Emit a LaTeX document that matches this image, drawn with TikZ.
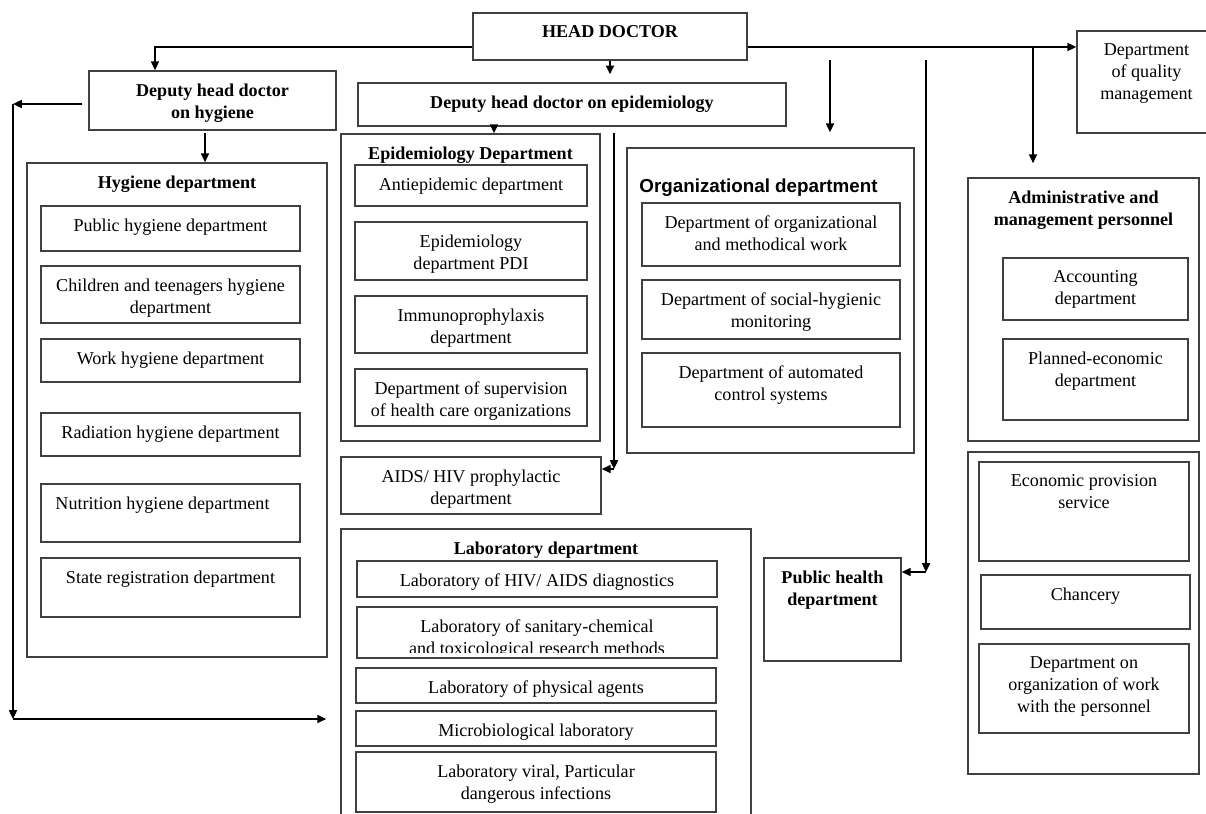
\documentclass[tikz,border=0pt]{standalone}
\usepackage{fontspec}
\setmainfont{Liberation Serif}
\newfontfamily\orgfont{Liberation Sans}
\usetikzlibrary{arrows.meta,fit}

\tikzset{
  box/.style={draw=black!75, line width=0.9pt, inner sep=0pt},
  lbl/.style={anchor=north, yshift=-0.26cm, align=center, inner sep=0pt, font=\fontsize{10.3}{12.5}\selectfont},
  txt/.style={label={[lbl]north:#1}},
  btxt/.style={label={[lbl, font=\fontsize{10.3}{12.5}\selectfont\bfseries]north:#1}},
  arr/.style={-{Triangle[length=5pt,width=4.6pt]}, line width=0.8pt},
}

\begin{document}
\begin{tikzpicture}[x=0.02cm, y=-0.02cm]
\useasboundingbox (0,0) rectangle (1206,814);

% heads
\node[box, fit={(473,13) (747,60)}, btxt={HEAD DOCTOR}] (head) {};
\node[box, fit={(89,71) (336,130)}, btxt={Deputy head doctor\\on hygiene}] (dephyg) {};
\node[box, fit={(358,83) (786,126)}, btxt={Deputy head doctor on epidemiology}] (depepi) {};
\node[box, fit={(1077,31) (1216,133)}, txt={Department\\of quality\\management}] (quality) {};

% hygiene
\node[box, fit={(27,163) (327,657)}, btxt={Hygiene department}] (hyg) {};
\node[box, fit={(41,206) (300,251)}, txt={Public hygiene department}] (hyg1) {};
\node[box, fit={(41,266) (300,323)}, txt={Children and teenagers hygiene\\department}] (hyg2) {};
\node[box, fit={(41,339) (300,382)}, txt={Work hygiene department}] (hyg3) {};
\node[box, fit={(41,413) (300,456)}, txt={Radiation hygiene department}] (hyg4) {};
\node[box, fit={(41,484) (300,542)}, label={[lbl, xshift=-0.16cm]north:Nutrition hygiene department}] (hyg5) {};
\node[box, fit={(41,558) (300,617)}, txt={State registration department}] (hyg6) {};

% epidemiology
\node[box, fit={(341,134) (600,441)}, btxt={Epidemiology Department}] (epi) {};
\node[box, fit={(355,165) (587,206)}, txt={Antiepidemic department}] (epi1) {};
\node[box, fit={(355,222) (587,280)}, txt={Epidemiology\\department PDI}] (epi2) {};
\node[box, fit={(355,296) (587,353)}, txt={Immunoprophylaxis\\department}] (epi3) {};
\node[box, fit={(355,369) (587,426)}, txt={Department of supervision\\of health care organizations}] (epi4) {};
\node[box, fit={(341,457) (601,514)}, txt={AIDS/ HIV prophylactic\\department}] (aids) {};

% laboratories
\node[box, fit={(341,529) (751,830)}, btxt={Laboratory department}] (lab) {};
\node[box, fit={(357,561) (717,597)}, txt={Laboratory of HIV/ AIDS diagnostics}] (lab1) {};
\node[box, fit={(357,607) (717,658)}] (lab2) {};
\begin{scope}
\clip (357,607) rectangle (717,652);
\node[lbl] (lab2t) at (lab2.north) {Laboratory of sanitary-chemical\\and toxicological research methods};
\end{scope}
\node[box, fit={(356,668) (716,703)}, txt={Laboratory of physical agents}] (lab3) {};
\node[box, fit={(356,711) (716,746)}, txt={Microbiological laboratory}] (lab4) {};
\node[box, fit={(356,752) (716,812)}, txt={Laboratory viral, Particular\\dangerous infections}] (lab5) {};

% organizational
\node[box, fit={(627,148) (914,453)}, label={[lbl, yshift=-0.36cm, xshift=-0.24cm, font=\orgfont\fontsize{10.7}{13}\selectfont\bfseries]north:Organizational department}] (org) {};
\node[box, fit={(642,203) (900,266)}, txt={Department of organizational\\and methodical work}] (org1) {};
\node[box, fit={(642,280) (900,339)}, txt={Department of social-hygienic\\monitoring}] (org2) {};
\node[box, fit={(642,353) (900,427)}, txt={Department of automated\\control systems}] (org3) {};

\node[box, fit={(764,558) (901,661)}, btxt={Public health\\department}] (pubh) {};

% administration
\node[box, fit={(968,178) (1199,441)}, btxt={Administrative and\\management personnel}] (adm) {};
\node[box, fit={(1003,258) (1188,320)}, txt={Accounting\\department}] (adm1) {};
\node[box, fit={(1003,339) (1188,420)}, txt={Planned-economic\\department}] (adm2) {};
\node[box, fit={(968,452) (1199,774)}] (eco) {};
\node[box, fit={(979,462) (1189,561)}, txt={Economic provision\\service}] (eco1) {};
\node[box, fit={(981,575) (1190,629)}, txt={Chancery}] (eco2) {};
\node[box, fit={(979,644) (1189,733)}, txt={Department on\\organization of work\\with the personnel}] (eco3) {};

% connectors
\coordinate (hb) at (155,47);
\coordinate (rb) at (1033,47);
\coordinate (ha) at (205,133);
\coordinate (ea) at (494,126);
\coordinate (h1) at (13,104);
\coordinate (h2) at (13,719);
\coordinate (e1) at (614,133);
\coordinate (e2) at (614,469);
\coordinate (o1) at (830,60);
\coordinate (p1) at (926,60);
\coordinate (p2) at (926,572);

\draw[arr] (head.west |- hb) -- (hb) -- (hb |- dephyg.north);
\draw[arr] (head.east |- hb) -- (quality.west |- hb);
\draw[arr, shorten >=8pt] (rb) -- (rb |- adm.north);
\draw[arr, shorten >=4.5pt] (head.south) -- (head.south |- depepi.north);
\draw[arr] (ha) -- (ha |- hyg.north);
\draw[arr] (ea) -- (ea |- epi.north);
\draw[arr, shorten <=3.5pt] (dephyg.west |- h1) -- (h1);
\draw[arr] (h1) -- (h2);
\draw[arr, shorten >=8pt] (h2) -- (lab.west |- h2);
\draw[arr] (e1) -- (e2);
\draw[arr] (e2) -- (aids.east |- e2);
\draw[arr, shorten >=8.5pt] (o1) -- (o1 |- org.north);
\draw[arr] (p1) -- (p2);
\draw[arr] (p2) -- (pubh.east |- p2);
\end{tikzpicture}
\end{document}
